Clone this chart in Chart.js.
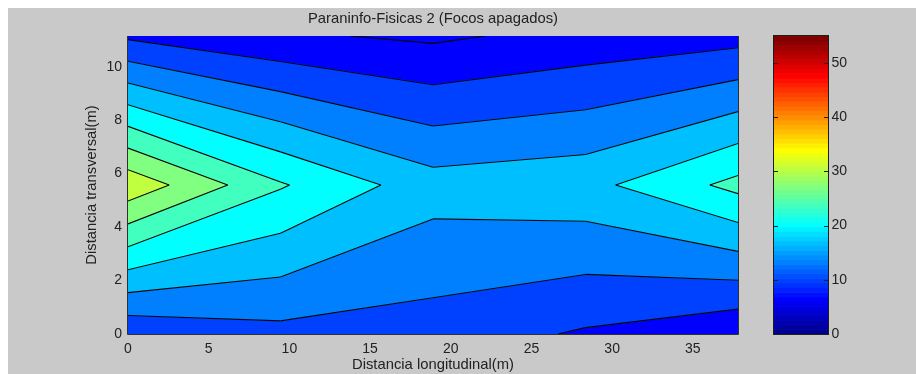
<!DOCTYPE html>
<html>
<head>
<meta charset="utf-8">
<title>Paraninfo-Fisicas 2 (Focos apagados)</title>
<script src="https://cdn.jsdelivr.net/npm/chart.js@4.4.1/dist/chart.umd.min.js"></script>
<style>
  html, body { margin: 0; padding: 0; background: #ffffff; }
  #wrap { position: absolute; left: 8px; top: 8px; width: 908px; height: 366px; background: #c9c9c9; }
  canvas { display: block; }
</style>
</head>
<body>
<div id="wrap"><canvas id="chart" width="908" height="366"></canvas></div>
<script>
// Measurement grid: longitudinal and transversal positions (m)
const xPos = [0, 9.45, 18.9, 28.35, 37.8];
const yPos = [0, 5.575, 11.15];

// Measured values, one row per transversal position
const row0 = [10.5, 12.25, 11.7, 9.43, 6.88];   // y = 0
const row1 = [32.9, 23.94, 18.2, 19.06, 24.63]; // y = 5.575
const row2 = [9.26, 6.92, 5.78, 7.6, 8.57];     // y = 11.15

// Contour levels
const levels = [6.4, 9.84, 13.28, 16.72, 20.16, 23.6, 27.04, 30.48];

// Colour scale range and tick labels
const cRange = [0, 55];
const xTicks = [0, 5, 10, 15, 20, 25, 30, 35];
const yTicks = [0, 2, 4, 6, 8, 10];
const cTicks = [0, 10, 20, 30, 40, 50];

const grid = [row0, row1, row2];
const FONT = "'Liberation Sans', Arial, Helvetica, sans-serif";
const TEXT = '#222222';

// MATLAB-style jet colormap with 64 entries
function jetIndexColor(i) {
  let r, g, b;
  if (i <= 24) r = 0; else if (i <= 40) r = (i - 24) / 16; else if (i <= 56) r = 1; else r = 1 - (i - 56) / 16;
  if (i <= 8) g = 0; else if (i <= 24) g = (i - 8) / 16; else if (i <= 40) g = 1; else if (i <= 56) g = 1 - (i - 40) / 16; else g = 0;
  if (i <= 8) b = (i + 8) / 16; else if (i <= 24) b = 1; else if (i <= 40) b = 1 - (i - 24) / 16; else b = 0;
  const c = v => Math.round(Math.max(0, Math.min(1, v)) * 255);
  return `rgb(${c(r)},${c(g)},${c(b)})`;
}
function jetValueColor(v) {
  let i = Math.floor((v - cRange[0]) / (cRange[1] - cRange[0]) * 64) + 1;
  i = Math.max(1, Math.min(64, i));
  return jetIndexColor(i);
}

function cellCorners(i, j) {
  return [
    { x: xPos[i], y: yPos[j], v: grid[j][i] },
    { x: xPos[i + 1], y: yPos[j], v: grid[j][i + 1] },
    { x: xPos[i + 1], y: yPos[j + 1], v: grid[j + 1][i + 1] },
    { x: xPos[i], y: yPos[j + 1], v: grid[j + 1][i] }
  ];
}

// Part of a grid cell where the value is at or above a level (straight edges)
function cellRegion(i, j, L) {
  const cs = cellCorners(i, j);
  const pts = [];
  for (let k = 0; k < 4; k++) {
    const A = cs[k], B = cs[(k + 1) % 4];
    if (A.v >= L) pts.push([A.x, A.y]);
    if ((A.v >= L) !== (B.v >= L)) {
      const t = (L - A.v) / (B.v - A.v);
      pts.push([A.x + t * (B.x - A.x), A.y + t * (B.y - A.y)]);
    }
  }
  return pts;
}

// Crossing points of a level on the edges of a grid cell
function cellCrossings(i, j, L) {
  const cs = cellCorners(i, j);
  const pts = [];
  for (let k = 0; k < 4; k++) {
    const A = cs[k], B = cs[(k + 1) % 4];
    if ((A.v >= L) !== (B.v >= L)) {
      const t = (L - A.v) / (B.v - A.v);
      pts.push([A.x + t * (B.x - A.x), A.y + t * (B.y - A.y)]);
    }
  }
  return pts;
}

const contourPlugin = {
  id: 'filledContour',
  beforeDatasetsDraw(chart) {
    const { ctx, chartArea: a, scales } = chart;
    const sx = scales.x, sy = scales.y;
    const px = v => sx.getPixelForValue(v);
    const py = v => sy.getPixelForValue(v);

    ctx.save();
    ctx.beginPath();
    ctx.rect(a.left, a.top, a.right - a.left, a.bottom - a.top);
    ctx.clip();

    ctx.fillStyle = jetValueColor(levels[0]);
    ctx.fillRect(a.left, a.top, a.right - a.left, a.bottom - a.top);

    levels.forEach(L => {
      const col = jetValueColor(L);
      ctx.fillStyle = col;
      ctx.strokeStyle = col;
      ctx.lineWidth = 1;
      for (let j = 0; j < yPos.length - 1; j++) {
        for (let i = 0; i < xPos.length - 1; i++) {
          const pts = cellRegion(i, j, L);
          if (pts.length < 3) continue;
          ctx.beginPath();
          pts.forEach((p, k) => k ? ctx.lineTo(px(p[0]), py(p[1])) : ctx.moveTo(px(p[0]), py(p[1])));
          ctx.closePath();
          ctx.fill();
          ctx.stroke();
        }
      }
    });

    ctx.strokeStyle = '#050505';
    ctx.lineWidth = 1.1;
    levels.forEach(L => {
      for (let j = 0; j < yPos.length - 1; j++) {
        for (let i = 0; i < xPos.length - 1; i++) {
          const pts = cellCrossings(i, j, L);
          for (let k = 0; k + 1 < pts.length; k += 2) {
            ctx.beginPath();
            ctx.moveTo(px(pts[k][0]), py(pts[k][1]));
            ctx.lineTo(px(pts[k + 1][0]), py(pts[k + 1][1]));
            ctx.stroke();
          }
        }
      }
    });
    ctx.restore();

    // axes frame
    ctx.save();
    ctx.strokeStyle = '#303030';
    ctx.lineWidth = 1;
    ctx.beginPath();
    ctx.moveTo(Math.round(a.left) - 0.5, Math.round(a.top));
    ctx.lineTo(Math.round(a.left) - 0.5, Math.round(a.bottom) + 0.5);
    ctx.lineTo(Math.round(a.right) + 0.5, Math.round(a.bottom) + 0.5);
    ctx.lineTo(Math.round(a.right) + 0.5, Math.round(a.top));
    ctx.stroke();
    ctx.restore();

    // colour bar
    const sc = scales.c;
    const bl = a.right + 36, bw = 54;
    ctx.save();
    const step = (cRange[1] - cRange[0]) / 64;
    for (let i = 1; i <= 64; i++) {
      const y0 = sc.getPixelForValue(cRange[0] + (i - 1) * step);
      const y1 = sc.getPixelForValue(cRange[0] + i * step);
      ctx.fillStyle = jetIndexColor(i);
      ctx.fillRect(bl, y1, bw, y0 - y1 + 0.6);
    }
    ctx.strokeStyle = '#1e1e1e';
    ctx.lineWidth = 1;
    ctx.strokeRect(Math.round(bl) - 0.5, Math.round(a.top) - 0.5, bw + 1, Math.round(a.bottom - a.top) + 1);
    cTicks.forEach(v => {
      const y = Math.round(sc.getPixelForValue(v)) + 0.5;
      ctx.beginPath();
      ctx.moveTo(bl, y); ctx.lineTo(bl + 4, y);
      ctx.moveTo(bl + bw, y); ctx.lineTo(bl + bw - 4, y);
      ctx.stroke();
    });
    ctx.restore();
  }
};

const tickFont = { family: FONT, size: 14 };
const labelFont = { family: FONT, size: 14.8 };

new Chart(document.getElementById('chart'), {
  type: 'scatter',
  data: { datasets: [{ data: [] }] },
  options: {
    responsive: false,
    animation: false,
    events: [],
    layout: { padding: 0 },
    plugins: {
      legend: { display: false },
      tooltip: { enabled: false },
      title: {
        display: true,
        text: 'Paraninfo-Fisicas 2 (Focos apagados)',
        fullSize: false,
        color: TEXT,
        font: { family: FONT, size: 14.8, weight: 'normal' },
        padding: { top: 2.4, bottom: 7.8 }
      }
    },
    scales: {
      x: {
        type: 'linear', position: 'bottom',
        min: xPos[0], max: xPos[xPos.length - 1],
        afterBuildTicks: s => { s.ticks = xTicks.map(v => ({ value: v })); },
        afterFit: s => { s.height = 40; s.paddingLeft = 0; s.paddingRight = 0; },
        grid: { display: false, drawTicks: false },
        border: { display: false },
        ticks: { color: TEXT, font: tickFont, padding: 6.5, maxRotation: 0, autoSkip: false },
        title: { display: true, text: 'Distancia longitudinal(m)', color: TEXT, font: labelFont, padding: { top: 0, bottom: 0 } }
      },
      y: {
        type: 'linear', position: 'left',
        min: yPos[0], max: yPos[yPos.length - 1],
        afterBuildTicks: s => { s.ticks = yTicks.map(v => ({ value: v })); },
        afterFit: s => { s.width = 120; s.paddingTop = 0; s.paddingBottom = 0; },
        grid: { display: false, drawTicks: false },
        border: { display: false },
        ticks: { color: TEXT, font: tickFont, padding: 6, autoSkip: false },
        title: { display: true, text: 'Distancia transversal(m)', color: TEXT, font: labelFont, padding: { top: 75.2, bottom: 0 } }
      },
      c: {
        type: 'linear', position: 'right',
        min: cRange[0], max: cRange[1],
        afterBuildTicks: s => { s.ticks = cTicks.map(v => ({ value: v })); },
        afterFit: s => { s.width = 178; s.paddingTop = 0; s.paddingBottom = 0; },
        grid: { display: false, drawTicks: false },
        border: { display: false },
        ticks: { color: TEXT, font: tickFont, padding: 93.5, autoSkip: false }
      }
    }
  },
  plugins: [contourPlugin]
});
</script>
</body>
</html>
